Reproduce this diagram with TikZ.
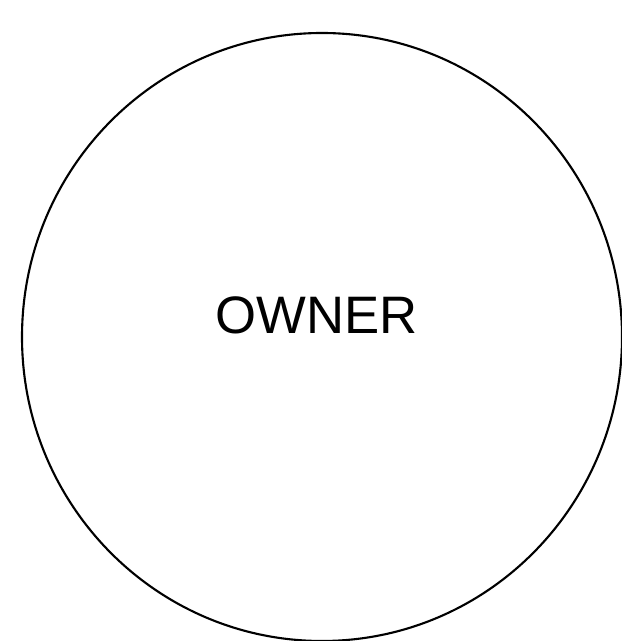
\documentclass[tikz,border=0pt]{standalone}
\usepackage{fontspec}
\setmainfont{Liberation Sans}
\begin{document}
\begin{tikzpicture}
	\useasboundingbox (0,0) rectangle (6.22,6.41);
	\draw[line width=0.6pt] (3.22,3.04) ellipse (3.0 and 3.04);
	\node (owner) at (3.17,3.26) {\fontsize{15}{18}\selectfont OWNER};
\end{tikzpicture}
\end{document}
